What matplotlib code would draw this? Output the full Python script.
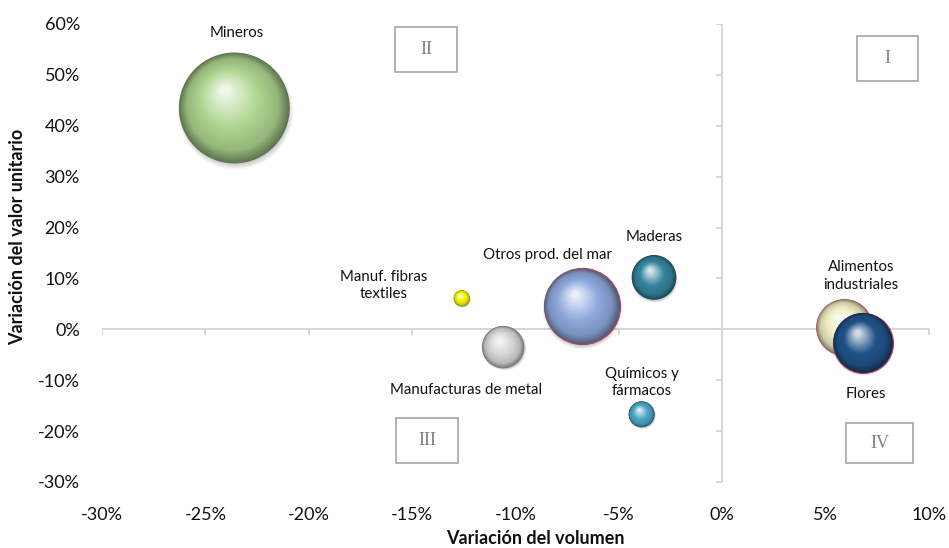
import numpy as np
import matplotlib
matplotlib.use("Agg")
import matplotlib.pyplot as plt
from matplotlib.patches import Rectangle
from matplotlib.transforms import offset_copy
from matplotlib.colors import to_rgb
from matplotlib.ticker import FuncFormatter

# --- data -------------------------------------------------------------
sectors = ["Mineros", "Manuf. fibras\ntextiles", "Otros prod. del mar", "Maderas",
           "Manufacturas de metal", "Químicos y\nfármacos", "Alimentos\nindustriales", "Flores"]
volume_change = [-23.6, -12.6, -6.8, -3.3, -10.6, -3.9, 5.9, 6.8]      # %
unit_value_change = [43.5, 6.1, 4.5, 10.2, -3.5, -16.7, 0.4, -2.6]    # %
bubble_size = [12.3, 0.26, 5.8, 2.0, 1.8, 0.68, 3.1, 3.6]

x_ticks = [-30, -25, -20, -15, -10, -5, 0, 5, 10]
y_ticks = [-30, -20, -10, 0, 10, 20, 30, 40, 50, 60]
quadrants = ["I", "II", "III", "IV"]

# --- style ------------------------------------------------------------
base_colors = ["#add48f", "#f4f400", "#8fa9dd", "#35859f", "#d6d6d6", "#4ea8c6", "#eeedc2", "#21548a"]
edge_colors = [None, None, "#c0405a", None, None, None, "#c0405a", "#c0405a"]
label_offsets = [(2, 54), (-56, 9), (-25, 37), (0, 29), (-27, -31), (0, 23), (12, 37), (2, -37)]

plt.rcParams["font.family"] = ["Lato", "DejaVu Sans"]
W, H, DPI = 949, 548, 100
fig = plt.figure(figsize=(W / DPI, H / DPI), dpi=DPI)
ax = fig.add_axes([102 / W, 1 - 482 / H, (929 - 102) / W, (482 - 24) / H])
ax.set_xlim(-30, 10)
ax.set_ylim(-30, 60)
for sp in ax.spines.values():
    sp.set_visible(False)

pct = FuncFormatter(lambda v, _: f"{v:.0f}%")
ax.set_xticks(x_ticks)
ax.set_yticks(y_ticks)
ax.xaxis.set_major_formatter(pct)
ax.yaxis.set_major_formatter(pct)
ax.tick_params(length=0, labelsize=13, labelcolor="#111111")
ax.tick_params(axis="x", pad=18)
ax.tick_params(axis="y", pad=16)

# zero lines acting as axes, with short tick marks
grey = "#d6d6d6"
ax.axhline(0, color=grey, lw=1.4, zorder=1)
ax.axvline(0, color=grey, lw=1.4, zorder=1)
ax.plot(x_ticks, np.zeros(len(x_ticks)), ls="none", marker=3, ms=4, mew=1.4, color=grey, zorder=1)
ax.plot(np.zeros(len(y_ticks)), y_ticks, ls="none", marker=0, ms=4, mew=1.4, color=grey, zorder=1)

# --- shaded spheres ---------------------------------------------------
pt_per_px = 72 / DPI
size_scale = (pt_per_px ** 2) * 1000   # points^2 per unit of bubble_size


def shade(base, t):
    base = np.array(to_rgb(base))
    dark = base * 0.55
    light = base + (1 - base) * 0.8
    stops = [(0.0, dark), (0.18, base * 0.86), (0.5, base), (1.0, light)]
    for (t0, c0), (t1, c1) in zip(stops[:-1], stops[1:]):
        if t <= t1:
            f = (t - t0) / (t1 - t0)
            return c0 + (c1 - c0) * f
    return stops[-1][1]


n_layers = 50
for i, (x, y, s) in enumerate(zip(volume_change, unit_value_change, bubble_size)):
    area = s * size_scale
    R = np.sqrt(area) / 2  # radius in points
    z = 3 + i
    # soft shadow
    for k in range(6):
        tr = offset_copy(ax.transData, fig=fig, x=0.02 * R, y=-0.06 * R, units="points")
        ax.scatter([x], [y], s=(2 * R * (1.04 - 0.02 * k)) ** 2, color="black", alpha=0.04,
                   lw=0, transform=tr, zorder=z)
    for k in range(n_layers):
        t = k / (n_layers - 1)
        r = R * (1 - 0.92 * t)
        dx, dy = -0.17 * R * t, 0.32 * R * t
        tr = offset_copy(ax.transData, fig=fig, x=dx, y=dy, units="points")
        ec = edge_colors[i] if (k == 0 and edge_colors[i]) else "none"
        ax.scatter([x], [y], s=(2 * r) ** 2, color=shade(base_colors[i], t), lw=0.8 if k == 0 else 0,
                   edgecolors=ec, transform=tr, zorder=z + 0.01 + 0.9 * t)

for name, x, y, off in zip(sectors, volume_change, unit_value_change, label_offsets):
    ax.annotate(name, (x, y), xytext=off, textcoords="offset points", ha="center", va="center",
                fontsize=10.8, color="#111111", linespacing=1.3, zorder=20)

# axis titles
fig.text(535 / W, 1 - 538 / H, "Variación del volumen", ha="center", va="center",
         fontsize=13, fontweight="bold", color="#111111")
fig.text(18 / W, 1 - 237 / H, "Variación del valor unitario", ha="center", va="center",
         rotation=90, fontsize=13, fontweight="bold", color="#111111")

# quadrant boxes (pixel boxes: left, top, right, bottom)
boxes = [(857, 36, 918, 81), (395, 27, 457, 72), (396, 418, 458, 463), (846, 423, 913, 463)]
for label, (l, t, r, b) in zip(quadrants, boxes):
    fig.add_artist(Rectangle((l / W, 1 - b / H), (r - l) / W, (b - t) / H, transform=fig.transFigure,
                             facecolor="white", edgecolor="#a6a6a6", lw=1.2, zorder=2))
    fig.text((l + r) / 2 / W, 1 - (t + b) / 2 / H, label, ha="center", va="center",
             fontsize=13, color="#7f7f7f", family="Liberation Serif")

fig.savefig("out.png", dpi=DPI)
